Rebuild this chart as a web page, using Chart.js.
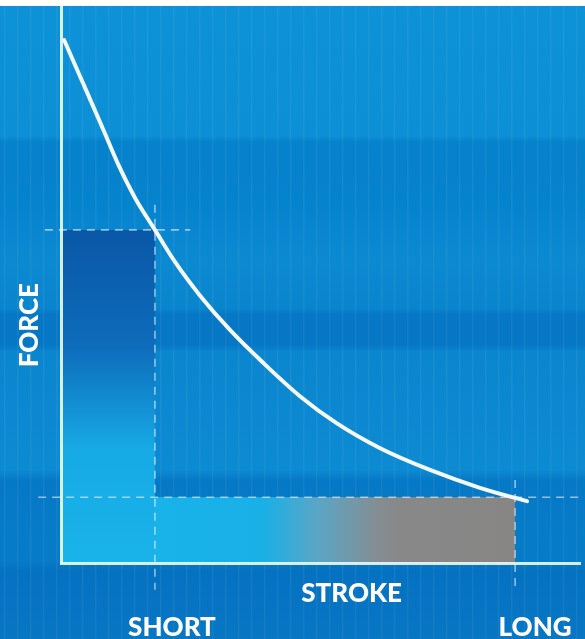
<!DOCTYPE html>
<html>
<head>
<meta charset="utf-8">
<script src="https://cdn.jsdelivr.net/npm/chart.js@4"></script>
<style>
  html, body { margin: 0; padding: 0; background: #ffffff; }
  #wrap { width: 585px; height: 639px; position: relative; }
</style>
</head>
<body>
<div id="wrap"><canvas id="c"></canvas></div>
<script>
// ---- data (x = stroke, y = force, both on a 0..100 relative scale) ----
const curveStroke = [0.6, 3.7, 8.2, 11.0, 14.3, 18.1, 22.0, 26.8, 32.6, 39.0, 46.1, 53.1, 61.5, 71.1, 80.7, 89.8];
const curveForce  = [93.9, 87.3, 77.7, 71.6, 65.5, 59.8, 54.0, 48.0, 41.8, 35.9, 29.9, 25.1, 20.6, 16.7, 13.5, 11.1];
const shortStroke = 18.1;   // SHORT marker position
const shortForce  = 59.8;   // force reached at short stroke
const longStroke  = 87.5;   // LONG marker position
const longForce   = 11.8;   // force reached at long stroke
const axisLabels  = { y: 'FORCE', x: 'STROKE' };
const tickLabels  = ['SHORT', 'LONG'];

const curvePts = curveStroke.map((x, i) => ({ x, y: curveForce[i] }));

function leftFill(ctx) {
  const ch = ctx.chart, ys = ch.scales && ch.scales.y;
  if (!ys || !ch.chartArea) return '#0e74c2';
  const a = ys.getPixelForValue(shortForce), b = ys.getPixelForValue(0);
  if (!isFinite(a) || !isFinite(b) || a === b) return '#0e74c2';
  const g = ch.ctx.createLinearGradient(0, a, 0, b);
  g.addColorStop(0, '#0a57a7');
  g.addColorStop(0.35, '#0d6cbb');
  g.addColorStop(0.66, '#17aae5');
  g.addColorStop(1, '#19b3e9');
  return g;
}
function bottomFill(ctx) {
  const ch = ctx.chart, xs = ch.scales && ch.scales.x;
  if (!xs || !ch.chartArea) return '#19b3e9';
  const x0 = xs.getPixelForValue(shortStroke), x1 = xs.getPixelForValue(longStroke);
  if (!isFinite(x0) || !isFinite(x1) || x0 === x1) return '#19b3e9';
  const g = ch.ctx.createLinearGradient(x0, 0, x1, 0);
  g.addColorStop(0, '#18b3e9');
  g.addColorStop(0.30, '#19b0e6');
  g.addColorStop(0.45, '#5aa6c6');
  g.addColorStop(0.62, '#858d92');
  g.addColorStop(0.68, '#888888');
  g.addColorStop(1, '#878685');
  return g;
}

const dashColor = 'rgba(255,255,255,0.55)';
const dashStyle = { borderColor: dashColor, borderWidth: 1.6, borderDash: [8, 6], pointRadius: 0, fill: false, clip: false, order: 2 };

const bgPlugin = {
  id: 'bg',
  beforeDraw(chart) {
    const c = chart.ctx, W = chart.width, H = chart.height;
    c.save();
    c.fillStyle = '#ffffff';
    c.fillRect(0, 0, W, H);
    const g = c.createLinearGradient(0, 6, 0, H);
    const s = y => Math.min(1, Math.max(0, (y - 6) / (H - 6)));
    g.addColorStop(s(6), '#0d91d7');
    g.addColorStop(s(136), '#0c8fd5');
    g.addColorStop(s(142), '#0681cc');
    g.addColorStop(s(205), '#0683cd');
    g.addColorStop(s(260), '#0b89d1');
    g.addColorStop(s(308), '#0985ce');
    g.addColorStop(s(314), '#0577c5');
    g.addColorStop(s(345), '#0577c5');
    g.addColorStop(s(352), '#0a86cf');
    g.addColorStop(s(470), '#0c8ad2');
    g.addColorStop(s(480), '#0679c6');
    g.addColorStop(s(560), '#067cc8');
    g.addColorStop(s(570), '#0572c1');
    g.addColorStop(1, '#0776c3');
    c.fillStyle = g;
    c.fillRect(0, 6, W, H - 6);
    // faint vertical stripes
    c.fillStyle = 'rgba(255,255,255,0.06)';
    for (let x = 4; x < W; x += 13) c.fillRect(x, 6, 1.5, H - 6);
    c.restore();
  }
};

const labelPlugin = {
  id: 'labels',
  afterDraw(chart) {
    const c = chart.ctx, xs = chart.scales.x, ys = chart.scales.y;
    c.save();
    c.fillStyle = '#ffffff';
    c.font = '900 26px Lato';
    c.textAlign = 'center';
    c.textBaseline = 'alphabetic';
    c.fillText(axisLabels.x, xs.getPixelForValue(56.0), 602);
    c.fillText(tickLabels[0], xs.getPixelForValue(shortStroke) + 17, 636);
    c.fillText(tickLabels[1], xs.getPixelForValue(longStroke) + 20, 636);
    c.translate(38, ys.getPixelForValue(42.7));
    c.rotate(-Math.PI / 2);
    c.fillText(axisLabels.y, 0, 0);
    c.restore();
  }
};

new Chart(document.getElementById('c'), {
  type: 'line',
  data: {
    datasets: [
      { label: 'curve', data: curvePts, borderColor: '#f4f9fc', borderWidth: 4, pointRadius: 0,
        cubicInterpolationMode: 'monotone', borderCapStyle: 'round', fill: false, order: 0, clip: false },
      { label: 'shortArea', data: [{ x: 0, y: shortForce }, { x: shortStroke, y: shortForce }],
        borderWidth: 0, pointRadius: 0, fill: 'origin', backgroundColor: leftFill, order: 5 },
      { label: 'longArea', data: [{ x: 0, y: longForce }, { x: longStroke, y: longForce }],
        borderWidth: 0, pointRadius: 0, fill: 'origin', backgroundColor: '#19b3e9', order: 6 },
      { label: 'longAreaGrad', data: [{ x: shortStroke, y: longForce }, { x: longStroke, y: longForce }],
        borderWidth: 0, pointRadius: 0, fill: 'origin', backgroundColor: bottomFill, order: 4 },
      Object.assign({ label: 'hShort', data: [{ x: -3.1, y: shortForce }, { x: 24.9, y: shortForce }] }, dashStyle),
      Object.assign({ label: 'vShort', data: [{ x: shortStroke, y: 64.3 }, { x: shortStroke, y: -4.8 }] }, dashStyle),
      Object.assign({ label: 'hLong', data: [{ x: -4.4, y: longForce }, { x: 100, y: longForce }] }, dashStyle),
      Object.assign({ label: 'vLong', data: [{ x: longStroke, y: 14.9 }, { x: longStroke, y: -4.8 }] }, dashStyle)
    ]
  },
  options: {
    responsive: true,
    maintainAspectRatio: false,
    animation: false,
    events: [],
    layout: { padding: { top: 6, right: 5, left: 0, bottom: 0 } },
    plugins: { legend: { display: false }, tooltip: { enabled: false } },
    scales: {
      x: {
        type: 'linear', min: 0, max: 100,
        grid: { display: false },
        ticks: { display: false },
        border: { display: true, color: 'rgba(240,248,252,0.9)', width: 3, z: 1 },
        afterFit(s) { s.height = 76; }
      },
      y: {
        type: 'linear', min: 0, max: 100,
        grid: { display: false },
        ticks: { display: false },
        border: { display: true, color: 'rgba(240,248,252,0.9)', width: 3, z: 1 },
        afterFit(s) { s.width = 61; }
      }
    }
  },
  plugins: [bgPlugin, labelPlugin]
});
</script>
</body>
</html>
